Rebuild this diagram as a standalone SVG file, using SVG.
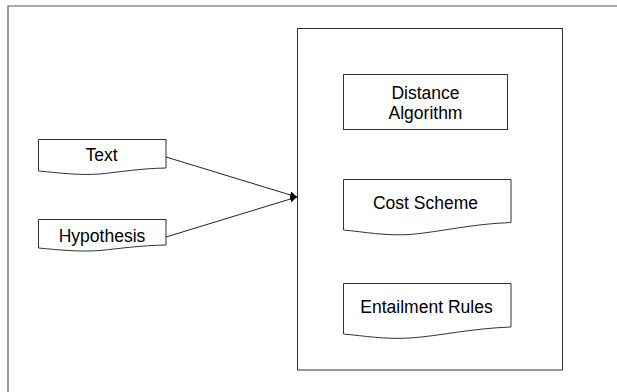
<svg xmlns="http://www.w3.org/2000/svg" width="617" height="392" viewBox="0 0 617 392">
  <style>
    .shape { fill: #ffffff; stroke: #333333; stroke-width: 1; }
    .frame { fill: none; stroke: #555555; stroke-width: 1.2; }
    .label { font-family: "Liberation Sans", Arial, sans-serif; font-size: 17.5px; fill: #000000; text-anchor: middle; }
    .edge { fill: none; stroke: #222222; stroke-width: 1; }
  </style>
  <defs>
    <marker id="arrowhead" viewBox="0 0 10 10" refX="10" refY="5" markerWidth="7" markerHeight="7" orient="auto" markerUnits="userSpaceOnUse">
      <path d="M0,0 L10,5 L0,10 z" fill="#000000"/>
    </marker>
  </defs>
  <rect width="617" height="392" fill="#ffffff"/>

  <!-- page frame: top and left edges -->
  <path class="frame" d="M8,392 V6 H617"/>

  <!-- container -->
  <g id="engine">
    <rect class="shape" x="297.5" y="28.5" width="265" height="341.5"/>
  </g>

  <g id="distance-algorithm">
    <rect class="shape" x="343.5" y="74.5" width="164" height="55"/>
    <text class="label" x="425.5" y="99">Distance</text>
    <text class="label" x="425.5" y="118.5">Algorithm</text>
  </g>

  <g id="cost-scheme">
    <path class="shape" d="M343.5,179.5 H511 V222.5 C470,224 440,232 410,234.5 C385,236 365,232 343.5,230 Z"/>
    <text class="label" x="425.5" y="208.5">Cost Scheme</text>
  </g>

  <g id="entailment-rules">
    <path class="shape" d="M343.5,283.5 H511 V327 C470,328.5 440,336 410,338 C385,339.5 365,336 343.5,334 Z"/>
    <text class="label" x="426.5" y="312.5">Entailment Rules</text>
  </g>

  <g id="text">
    <path class="shape" d="M38.5,139.5 H166 V168 C140,168.5 120,172 100,174 C80,175.5 60,173 38.5,171 Z"/>
    <text class="label" x="101.5" y="161">Text</text>
  </g>

  <g id="hypothesis">
    <path class="shape" d="M38.5,219.5 H166 V245 C140,245.5 120,248.5 100,250.5 C80,252 60,250 38.5,248 Z"/>
    <text class="label" x="102" y="241.5">Hypothesis</text>
  </g>

  <g id="connectors">
    <line class="edge" x1="166" y1="157" x2="297" y2="197" marker-end="url(#arrowhead)"/>
    <line class="edge" x1="166" y1="237" x2="297" y2="197" marker-end="url(#arrowhead)"/>
  </g>
</svg>
